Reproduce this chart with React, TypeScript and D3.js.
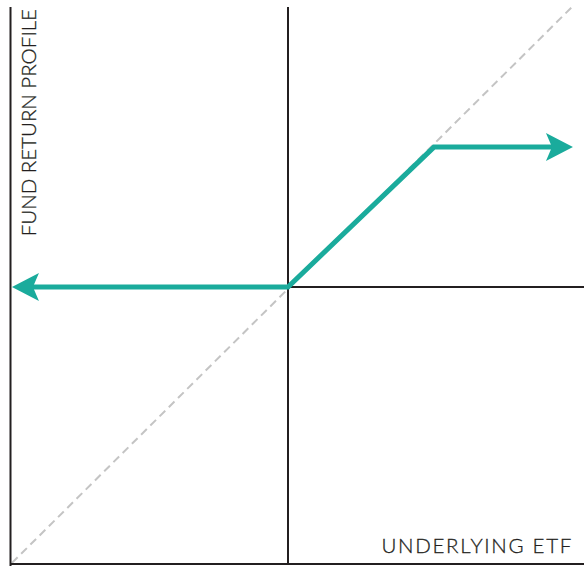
import React from "react";
import * as d3 from "d3";

const W = 584;
const H = 567;

// Payoff profile (underlying ETF return -> fund return), normalized units
const underlying = [-0.993, 0, 0.525, 1.025];
const fundReturn = [0, 0, 0.505, 0.505];
const diagonalX = [-0.993, 1.0216];
const diagonalY = [-0.996, 1.011];
const xLabel = "UNDERLYING ETF";
const yLabel = "FUND RETURN PROFILE";

const TEAL = "#1aab9c";

export default function App() {
  const x = d3.scaleLinear().domain([-1, 1]).range([10, 566]);
  const y = d3.scaleLinear().domain([-1, 1]).range([564, 10]);

  const pts: [number, number][] = underlying.map((u, i) => [x(u), y(fundReturn[i])]);

  const arrowLen = 27;
  const notch = 21;
  const half = 14;

  function arrowHead(tip: [number, number], from: [number, number]) {
    const dx = tip[0] - from[0];
    const dy = tip[1] - from[1];
    const L = Math.hypot(dx, dy);
    const ux = dx / L, uy = dy / L;
    const px = -uy, py = ux;
    const bx = tip[0] - ux * arrowLen, by = tip[1] - uy * arrowLen;
    const nx = tip[0] - ux * notch, ny = tip[1] - uy * notch;
    return {
      d: `M${tip[0]},${tip[1]} L${bx + px * half},${by + py * half} L${nx},${ny} L${bx - px * half},${by - py * half} Z`,
      notch: [nx + ux * 1, ny + uy * 1] as [number, number],
    };
  }

  const leftHead = arrowHead(pts[0], pts[1]);
  const rightHead = arrowHead(pts[3], pts[2]);
  const linePts: [number, number][] = [leftHead.notch, pts[1], pts[2], rightHead.notch];
  const line = d3.line<[number, number]>().x((d) => d[0]).y((d) => d[1]);

  return (
    <svg
      width={W}
      height={H}
      style={{ position: "absolute", left: 0, top: 0, background: "#fff" }}
      fontFamily="Lato, 'Open Sans', sans-serif"
    >
      {/* dashed diagonal */}
      <line
        x1={x(diagonalX[0])}
        y1={y(diagonalY[0])}
        x2={x(diagonalX[1])}
        y2={y(diagonalY[1])}
        stroke="#c4c4c4"
        strokeWidth={2}
        strokeDasharray="8,5"
      />
      {/* axes */}
      <line x1={x(-1) + 0.5} y1={7} x2={x(-1) + 0.5} y2={566} stroke="#231f20" strokeWidth={2} />
      <line x1={x(-1)} y1={y(-1)} x2={W} y2={y(-1)} stroke="#231f20" strokeWidth={2} />
      <line x1={x(0)} y1={7} x2={x(0)} y2={y(-1)} stroke="#231f20" strokeWidth={2} />
      <line x1={x(0)} y1={y(0)} x2={W} y2={y(0)} stroke="#231f20" strokeWidth={2} />

      {/* payoff line */}
      <path d={line(linePts) || ""} fill="none" stroke={TEAL} strokeWidth={5} strokeLinejoin="miter" />
      <path d={leftHead.d} fill={TEAL} />
      <path d={rightHead.d} fill={TEAL} />

      {/* labels */}
      <text
        x={573}
        y={553}
        textAnchor="end"
        fontSize={20.5}
        fontWeight={300}
        letterSpacing={1.7}
        fill="#231f20"
        stroke="#231f20"
        strokeWidth={0.3}
      >
        {xLabel}
      </text>
      <text
        transform={`translate(36,9) rotate(-90)`}
        textAnchor="end"
        fontSize={20.5}
        fontWeight={300}
        fill="#231f20"
        stroke="#231f20"
        strokeWidth={0.3}
      >
        {yLabel}
      </text>
    </svg>
  );
}
